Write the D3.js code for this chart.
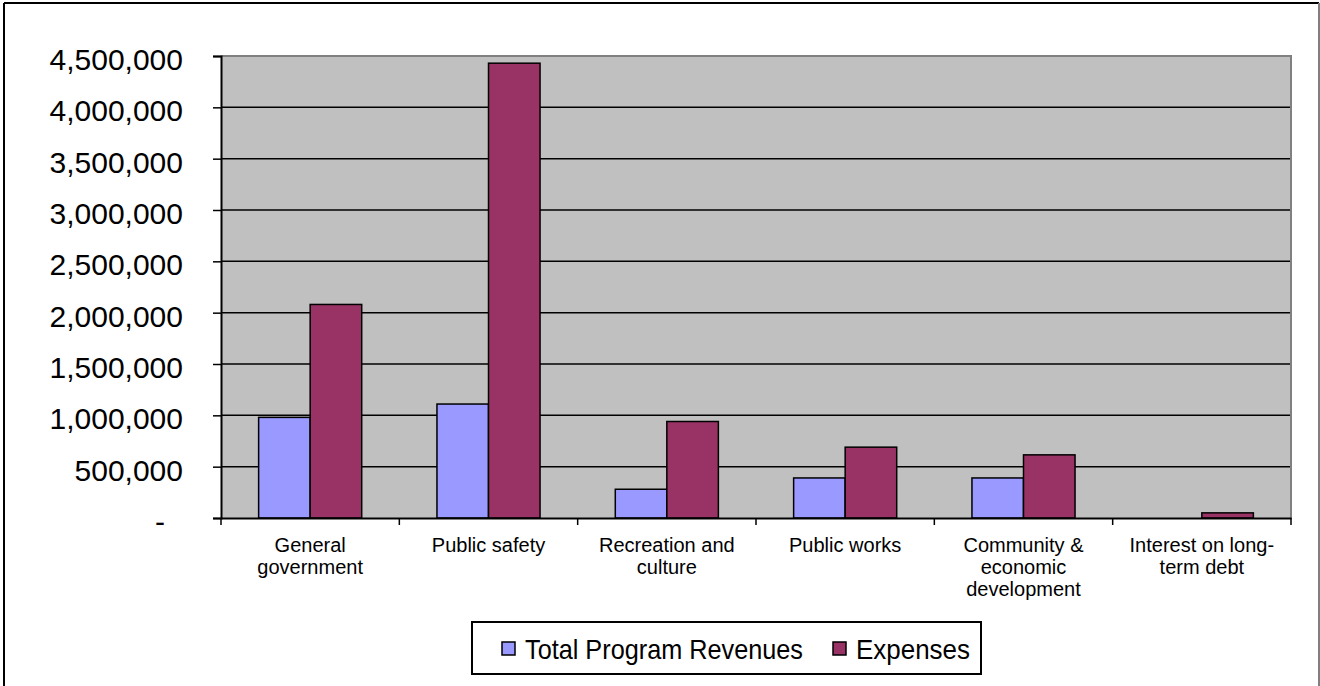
<!DOCTYPE html>
<html>
<head>
<meta charset="utf-8">
<script src="https://cdn.jsdelivr.net/npm/d3@7"></script>
<style>
  body { margin: 0; background: #fff; }
  text { font-family: "Liberation Sans", Arial, sans-serif; fill: #000; }
</style>
</head>
<body>
<div id="chart"></div>
<script>
const categories = ["General government", "Public safety", "Recreation and culture",
    "Public works", "Community & economic development", "Interest on long-term debt"];
const categoryLines = [
    ["General", "government"],
    ["Public safety"],
    ["Recreation and", "culture"],
    ["Public works"],
    ["Community &", "economic", "development"],
    ["Interest on long-", "term debt"]
];
const seriesNames = ["Total Program Revenues", "Expenses"];
const revenues = [980000, 1110000, 280000, 390000, 390000, 0];
const expenses = [2080000, 4430000, 940000, 690000, 615000, 50000];
const yTicks = [0, 500000, 1000000, 1500000, 2000000, 2500000, 3000000, 3500000, 4000000, 4500000];
const colors = ["#9999FF", "#993366"];

const W = 1320, H = 686;
const plot = { left: 221, right: 1291, top: 56, bottom: 518 };

const svg = d3.select("#chart")
    .append("svg")
    .attr("width", W)
    .attr("height", H);

// outer chart frame
svg.append("line").attr("x1", 4).attr("x2", 4).attr("y1", 3).attr("y2", H)
    .attr("stroke", "#000").attr("stroke-width", 2);
svg.append("line").attr("x1", 4).attr("x2", 1319).attr("y1", 3).attr("y2", 3)
    .attr("stroke", "#000").attr("stroke-width", 2);
svg.append("line").attr("x1", 1319).attr("x2", 1319).attr("y1", 3).attr("y2", H)
    .attr("stroke", "#808080").attr("stroke-width", 2);

const x0 = d3.scaleBand()
    .domain(categories)
    .range([plot.left, plot.right])
    .padding(0);

const x1 = d3.scaleBand()
    .domain(seriesNames)
    .range([0, x0.bandwidth()])
    .paddingInner(0)
    .paddingOuter(0.73);

const y = d3.scaleLinear()
    .domain([0, 4500000])
    .range([plot.bottom, plot.top]);

// plot background
svg.append("rect")
    .attr("x", plot.left)
    .attr("y", plot.top)
    .attr("width", plot.right - plot.left)
    .attr("height", plot.bottom - plot.top)
    .attr("fill", "#C0C0C0");

// gridlines
svg.append("g")
    .selectAll("line")
    .data(yTicks.slice(1, -1))
    .join("line")
    .attr("x1", plot.left)
    .attr("x2", plot.right)
    .attr("y1", d => y(d))
    .attr("y2", d => y(d))
    .attr("stroke", "#000")
    .attr("stroke-width", 1.5);

// plot border top/right
svg.append("path")
    .attr("d", `M${plot.left},${plot.top}H${plot.right}V${plot.bottom}`)
    .attr("fill", "none")
    .attr("stroke", "#808080")
    .attr("stroke-width", 2);

// bars
const rows = categories.map((c, i) => ({ cat: c, values: [revenues[i], expenses[i]] }));
svg.append("g")
    .selectAll("g")
    .data(rows)
    .join("g")
    .attr("transform", d => `translate(${x0(d.cat)},0)`)
    .selectAll("rect")
    .data(d => d.values.map((v, j) => ({ key: seriesNames[j], v, j })).filter(d => d.v > 0))
    .join("rect")
    .attr("x", d => x1(d.key))
    .attr("y", d => y(d.v))
    .attr("width", x1.bandwidth())
    .attr("height", d => y(0) - y(d.v))
    .attr("fill", d => colors[d.j])
    .attr("stroke", "#000")
    .attr("stroke-width", 1.5);

// y axis
const yAxis = svg.append("g")
    .attr("transform", `translate(${plot.left},0)`)
    .call(d3.axisLeft(y)
        .tickValues(yTicks)
        .tickSize(8)
        .tickPadding(30)
        .tickFormat(d => d === 0 ? "-" : d3.format(",")(d)));
yAxis.select(".domain").attr("stroke", "#000").attr("stroke-width", 2);
yAxis.selectAll(".tick line").attr("stroke", "#000").attr("stroke-width", 1.5);
yAxis.selectAll(".tick text")
    .attr("font-size", 30)
    .attr("font-family", "Liberation Sans, Arial, sans-serif")
    .attr("dy", "0.45em")
    .attr("dx", d => d === 0 ? -18 : 0);

// x axis
const xAxis = svg.append("g")
    .attr("transform", `translate(0,${plot.bottom})`)
    .call(d3.axisBottom(x0).tickSize(0).tickFormat(""));
xAxis.select(".domain").attr("stroke", "#000").attr("stroke-width", 2);

svg.append("g")
    .selectAll("line")
    .data(categories.map(c => x0(c)).concat([plot.right]))
    .join("line")
    .attr("x1", d => d)
    .attr("x2", d => d)
    .attr("y1", plot.bottom)
    .attr("y2", plot.bottom + 7)
    .attr("stroke", "#000")
    .attr("stroke-width", 1.5);

svg.append("g")
    .selectAll("text")
    .data(categories)
    .join("text")
    .attr("x", d => x0(d) + x0.bandwidth() / 2)
    .attr("y", 552)
    .attr("text-anchor", "middle")
    .attr("font-size", 20)
    .selectAll("tspan")
    .data((d, i) => categoryLines[i])
    .join("tspan")
    .attr("x", function () { return this.parentNode.getAttribute("x"); })
    .attr("dy", (d, i) => i === 0 ? 0 : 22)
    .text(d => d);

// legend
const legend = svg.append("g");
legend.append("rect")
    .attr("x", 472)
    .attr("y", 622)
    .attr("width", 509)
    .attr("height", 52)
    .attr("fill", "#fff")
    .attr("stroke", "#000")
    .attr("stroke-width", 2);

const legendX = [502, 833];
const legendTextWidth = [278, 114];
seriesNames.forEach((name, i) => {
    legend.append("rect")
        .attr("x", legendX[i])
        .attr("y", 642)
        .attr("width", 13)
        .attr("height", 13)
        .attr("fill", colors[i])
        .attr("stroke", "#000")
        .attr("stroke-width", 1.5);
    legend.append("text")
        .attr("x", legendX[i] + 23)
        .attr("y", 659)
        .attr("font-size", 28)
        .attr("textLength", legendTextWidth[i])
        .attr("lengthAdjust", "spacingAndGlyphs")
        .text(name);
});
</script>
</body>
</html>
